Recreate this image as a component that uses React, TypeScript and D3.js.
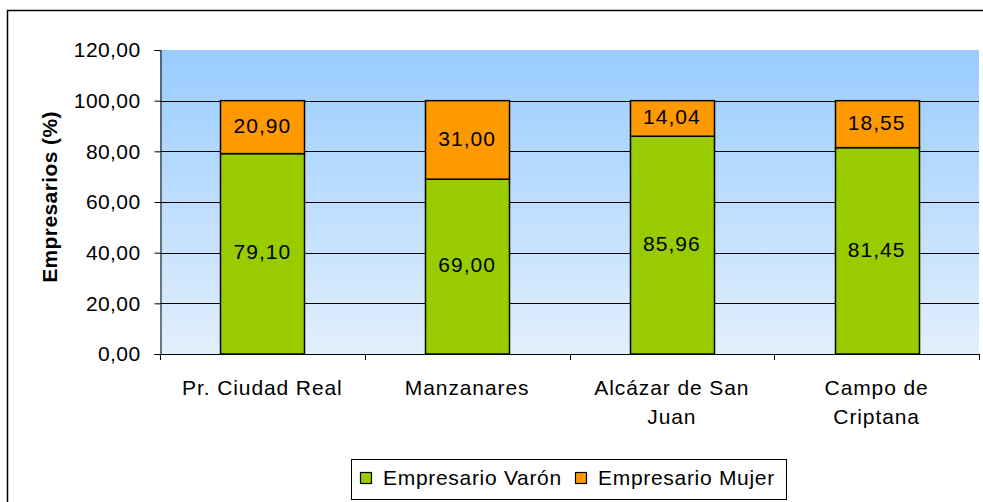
import React, { useEffect, useRef } from 'react';
import * as d3 from 'd3';

const categories = ['Pr. Ciudad Real', 'Manzanares', 'Alcázar de San Juan', 'Campo de Criptana'];
const categoryLines = [['Pr. Ciudad Real'], ['Manzanares'], ['Alcázar de San', 'Juan'], ['Campo de', 'Criptana']];
const varon = [79.1, 69.0, 85.96, 81.45];
const mujer = [20.9, 31.0, 14.04, 18.55];
const seriesNames = ['Empresario Varón', 'Empresario Mujer'];
const seriesColors = ['#99CC00', '#FF9900'];
const yTicks = [0, 20, 40, 60, 80, 100, 120];

const FONT = 'Liberation Sans, Arial, sans-serif';

const fmt = (v: number) => d3.format('.2f')(v).replace('.', ',');

const App = () => {
  const ref = useRef<SVGSVGElement>(null);

  useEffect(() => {
    const width = 983;
    const height = 502;
    const plot = { left: 160, right: 979, top: 50, bottom: 354 };

    const svg = d3.select(ref.current).attr('width', width).attr('height', height);
    svg.selectAll('*').remove();

    // outer chart border
    svg.append('rect')
      .attr('x', 7.5).attr('y', 10.5)
      .attr('width', width).attr('height', height)
      .attr('fill', '#fff').attr('stroke', '#000').attr('stroke-width', 1.5);

    const defs = svg.append('defs');
    const grad = defs.append('linearGradient')
      .attr('id', 'bg').attr('x1', 0).attr('y1', 0).attr('x2', 0).attr('y2', 1);
    grad.append('stop').attr('offset', '0%').attr('stop-color', '#99CCFF');
    grad.append('stop').attr('offset', '100%').attr('stop-color', '#E2EFFC');

    const x = d3.scaleBand()
      .domain(categories)
      .range([plot.left, plot.right])
      .paddingInner(0.59)
      .paddingOuter(0.295);

    const y = d3.scaleLinear().domain([0, 120]).range([plot.bottom, plot.top]);

    // plot area
    svg.append('rect')
      .attr('x', plot.left).attr('y', plot.top)
      .attr('width', plot.right - plot.left).attr('height', plot.bottom - plot.top)
      .attr('fill', 'url(#bg)');

    // gridlines
    svg.append('g')
      .selectAll('line')
      .data(yTicks.filter(t => t > 0 && t < 120))
      .enter()
      .append('line')
      .attr('x1', plot.left).attr('x2', plot.right)
      .attr('y1', d => Math.round(y(d)) + 0.5).attr('y2', d => Math.round(y(d)) + 0.5)
      .attr('stroke', '#000').attr('stroke-width', 1);

    // y axis
    const yAxis = svg.append('g')
      .attr('transform', `translate(${plot.left + 0.5},0)`)
      .call(d3.axisLeft(y).tickValues(yTicks).tickFormat(d => fmt(d as number)).tickSize(6).tickPadding(14));
    yAxis.select('.domain').attr('stroke', '#000');
    yAxis.selectAll('text')
      .attr('font-family', FONT).attr('font-size', 21).attr('letter-spacing', 0.4).attr('fill', '#000');

    // x axis
    const step = x.step();
    const boundaries = d3.range(categories.length + 1).map(i => plot.left + i * step);
    const xAxis = svg.append('g');
    xAxis.append('line')
      .attr('x1', plot.left).attr('x2', plot.right)
      .attr('y1', plot.bottom + 0.5).attr('y2', plot.bottom + 0.5)
      .attr('stroke', '#000');
    xAxis.selectAll('.tick')
      .data(boundaries)
      .enter()
      .append('line')
      .attr('x1', d => Math.round(d) + 0.5).attr('x2', d => Math.round(d) + 0.5)
      .attr('y1', plot.bottom).attr('y2', plot.bottom + 6)
      .attr('stroke', '#000');

    const labels = xAxis.selectAll('.cat')
      .data(categories)
      .enter()
      .append('text')
      .attr('text-anchor', 'middle')
      .attr('font-family', FONT).attr('font-size', 21).attr('letter-spacing', 0.9)
      .attr('x', d => (x(d) as number) + x.bandwidth() / 2)
      .attr('y', 395);
    labels.each(function (_, i) {
      const t = d3.select(this);
      categoryLines[i].forEach((line, j) => {
        t.append('tspan')
          .attr('x', (x(categories[i]) as number) + x.bandwidth() / 2)
          .attr('dy', j === 0 ? 0 : 29)
          .text(line);
      });
    });

    // stacked bars
    const rows = categories.map((c, i) => ({ cat: c, varon: varon[i], mujer: mujer[i] }));
    const stack = d3.stack<any>().keys(['varon', 'mujer'])(rows);

    stack.forEach((layer, li) => {
      const g = svg.append('g');
      g.selectAll('rect')
        .data(layer)
        .enter()
        .append('rect')
        .attr('x', d => Math.round(x(d.data.cat) as number) + 0.5)
        .attr('width', Math.round(x.bandwidth()))
        .attr('y', d => y(d[1]))
        .attr('height', d => y(d[0]) - y(d[1]))
        .attr('fill', seriesColors[li])
        .attr('stroke', '#000').attr('stroke-width', 1.5);
      g.selectAll('text')
        .data(layer)
        .enter()
        .append('text')
        .attr('x', d => (x(d.data.cat) as number) + x.bandwidth() / 2)
        .attr('y', d => (y(d[0]) + y(d[1])) / 2)
        .attr('dy', '0.27em')
        .attr('text-anchor', 'middle')
        .attr('font-family', FONT).attr('font-size', 21).attr('letter-spacing', 1)
        .text(d => fmt(d[1] - d[0]));
    });

    // y axis title
    svg.append('text')
      .attr('transform', `translate(57,${197}) rotate(-90)`)
      .attr('text-anchor', 'middle')
      .attr('font-family', FONT).attr('font-size', 21).attr('font-weight', 'bold')
      .attr('letter-spacing', 0.4)
      .text('Empresarios (%)');

    // legend
    const legend = svg.append('g');
    legend.append('rect')
      .attr('x', 351.5).attr('y', 459.5).attr('width', 435).attr('height', 40)
      .attr('fill', '#fff').attr('stroke', '#000');
    const itemX = [360, 575];
    seriesNames.forEach((name, i) => {
      legend.append('rect')
        .attr('x', itemX[i] + 0.5).attr('y', 472.5).attr('width', 11).attr('height', 11)
        .attr('fill', seriesColors[i]).attr('stroke', '#000').attr('stroke-width', 1.2);
      legend.append('text')
        .attr('x', itemX[i] + 23).attr('y', 485)
        .attr('font-family', FONT).attr('font-size', 21).attr('letter-spacing', 0.7)
        .text(name);
    });
  }, []);

  return (
    <div style={{ position: 'absolute', left: 0, top: 0 }}>
      <svg ref={ref} style={{ display: 'block' }} />
    </div>
  );
};

export default App;
